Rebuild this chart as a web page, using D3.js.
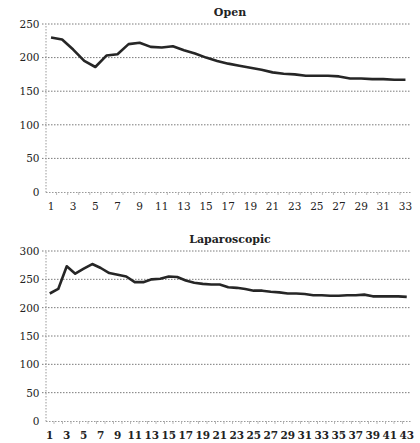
<!DOCTYPE html>
<html><head><meta charset="utf-8">
<script src="https://cdn.jsdelivr.net/npm/d3@7"></script>
<style>body{margin:0;background:#fff}svg{display:block}
svg text{font-family:"DejaVu Serif","Liberation Serif",serif}</style>
</head><body>
<svg id="c" width="420" height="443"></svg>
<script>
const openTitle = "Open";
const lapTitle = "Laparoscopic";
const openValues = [230,227,212,195,186,203,205,220,222,216,215,217,211,206,200,195,191,188,185,182,178,176,175,173,173,173,172,169,169,168,168,167,167];
const lapValues = [225,233,273,260,269,277,270,261,258,255,245,245,250,251,255,254,248,244,242,241,241,236,235,233,230,230,228,227,225,225,224,222,222,221,221,222,222,223,220,220,220,220,219];
const openYTicks = [0,50,100,150,200,250];
const lapYTicks = [0,50,100,150,200,250,300];

const svg = d3.select("#c");

function panel(title, values, yTicks, top, bottom, titleY, labelY, boldX, xFont) {
  const cats = values.map((d,i)=>String(i+1));
  const x = d3.scaleBand().domain(cats).range([45.5, 411]);
  const y = d3.scaleLinear().domain([0, d3.max(yTicks)]).range([bottom, top]);
  const g = svg.append("g");
  g.selectAll("line.grid").data(yTicks.filter(t=>t>0)).join("line")
    .attr("x1", 42).attr("x2", 411)
    .attr("y1", d=>y(d)).attr("y2", d=>y(d))
    .attr("stroke", "#7a7a7a").attr("stroke-width", 1).attr("stroke-dasharray", "1.5,1.5");
  const ya = d3.axisLeft(y).tickValues(yTicks).tickSize(0).tickPadding(6);
  const yg = g.append("g").attr("transform", "translate(45.5,0)").call(ya);
  yg.attr("font-family", null);
  yg.select(".domain").attr("stroke", "#999").attr("stroke-dasharray", "1.5,1.5");
  yg.selectAll("text").attr("font-size", 10.5).attr("fill", "#222");
  const xa = d3.axisBottom(x).tickValues(cats.filter((d,i)=>i%2===0)).tickSize(0).tickPadding(0);
  const xg = g.append("g").attr("transform", `translate(0,${bottom})`).call(xa);
  xg.attr("font-family", null);
  xg.select(".domain").attr("stroke", "#999").attr("stroke-dasharray", "1.5,1.5");
  xg.selectAll("text").attr("font-size", xFont)
    .attr("font-weight", boldX ? "bold" : "normal").attr("fill", "#222")
    .attr("dy", null).attr("y", labelY - bottom);
  g.selectAll("line.xt").data(cats.slice(1)).join("line")
    .attr("x1", d=>x(d)).attr("x2", d=>x(d))
    .attr("y1", bottom).attr("y2", bottom+3)
    .attr("stroke", "#aaa").attr("stroke-width", 0.8);
  const line = d3.line().x((d,i)=>x(cats[i]) + x.bandwidth()/2).y(d=>y(d));
  g.append("path").datum(values).attr("d", line)
    .attr("fill", "none").attr("stroke", "#262626").attr("stroke-width", 2.6)
    .attr("stroke-linejoin", "round");
  g.append("text").attr("x", 230).attr("y", titleY).attr("text-anchor", "middle")
    .attr("font-weight", "bold").attr("font-size", 11)
    .attr("fill", "#222").text(title);
}

panel(openTitle, openValues, openYTicks, 24, 192, 16, 209.5, false, 10.5);
panel(lapTitle, lapValues, lapYTicks, 251, 421, 243, 439, true, 10.5);
</script>
</body></html>
